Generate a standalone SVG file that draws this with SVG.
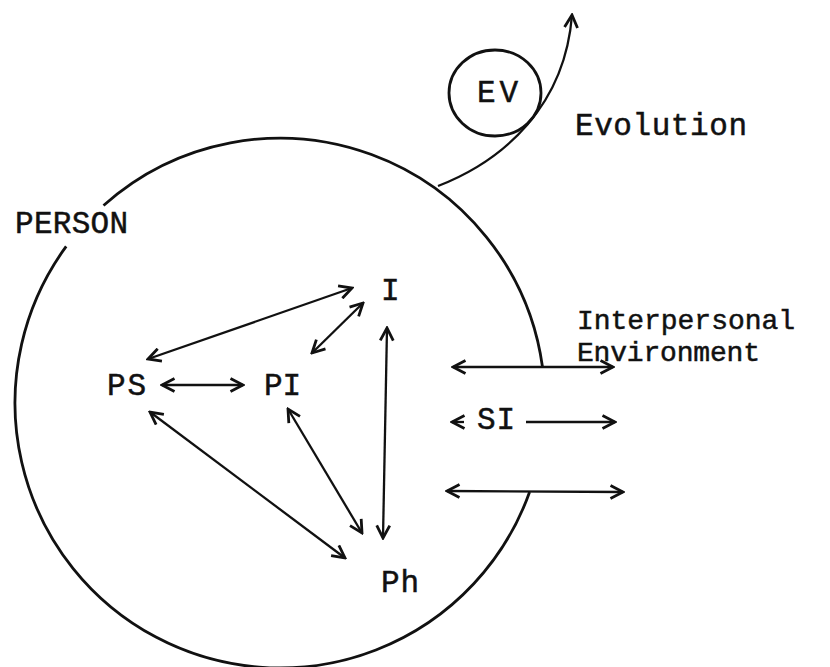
<svg xmlns="http://www.w3.org/2000/svg" width="830" height="667" viewBox="0 0 830 667">
<style>
.t{font-family:"Liberation Mono","DejaVu Sans Mono",monospace;font-size:31px;fill:#111;stroke:#111;stroke-width:0.5}
.c{fill:none;stroke:#111;stroke-width:2.8}
.a{fill:none;stroke:#111;stroke-width:2.3;marker-start:url(#ah);marker-end:url(#ah)}
.s{fill:none;stroke:#111;stroke-width:2.3;marker-end:url(#ah)}
</style>
<defs>
<marker id="ah" viewBox="0 0 16 16" refX="14" refY="8" markerWidth="16" markerHeight="16" markerUnits="userSpaceOnUse" orient="auto-start-reverse">
<path d="M1.5,1.5 L14,8 L1.5,14.5" fill="none" stroke="#111" stroke-width="2.8" stroke-linejoin="miter"/>
</marker>
</defs>
<rect width="830" height="667" fill="#fff"/>
<g id="person">
<path class="c" d="M542.5,367 A265,265 0 0 0 103.5,205.5"/>
<path class="c" d="M66.2,246.4 A265,265 0 1 0 529.6,492"/>
<text class="t" x="15" y="233" textLength="113">PERSON</text>
</g>
<g id="ev">
<ellipse class="c" cx="495" cy="93" rx="46" ry="43"/>
<text class="t" x="477" y="102" textLength="41">EV</text>
</g>
<g id="evolution">
<text class="t" x="575" y="135" textLength="172">Evolution</text>
</g>
<g id="interpersonal">
<text class="t" x="577" y="329" textLength="218" style="font-size:28px">Interpersonal</text>
<text class="t" x="577" y="361" textLength="183" style="font-size:28px">Environment</text>
</g>
<g id="I"><text class="t" x="381" y="300">I</text></g>
<g id="PS"><text class="t" x="107" y="395" textLength="39">PS</text></g>
<g id="PI"><text class="t" x="264" y="395" textLength="37">PI</text></g>
<g id="Ph"><text class="t" x="381" y="592" textLength="38">Ph</text></g>
<g id="SI"><text class="t" x="477" y="429" textLength="38">SI</text></g>
<g id="connectors">
<path class="s" d="M438,186 C505,160 565,105 572,15"/>
<line class="a" x1="148" y1="359" x2="352" y2="288"/>
<line class="a" x1="312" y1="353" x2="363" y2="303"/>
<line class="a" x1="162" y1="385" x2="243" y2="385"/>
<line class="a" x1="387" y1="328" x2="383" y2="538"/>
<line class="a" x1="150" y1="412" x2="345" y2="558"/>
<line class="a" x1="288" y1="409" x2="362" y2="533"/>
<line class="a" x1="453" y1="367" x2="613" y2="367"/>
<line class="a" x1="447" y1="491" x2="623" y2="492"/>
<line class="s" x1="526" y1="422" x2="615" y2="422"/>
<line class="s" x1="464" y1="422" x2="452" y2="422"/>
</g>
</svg>
